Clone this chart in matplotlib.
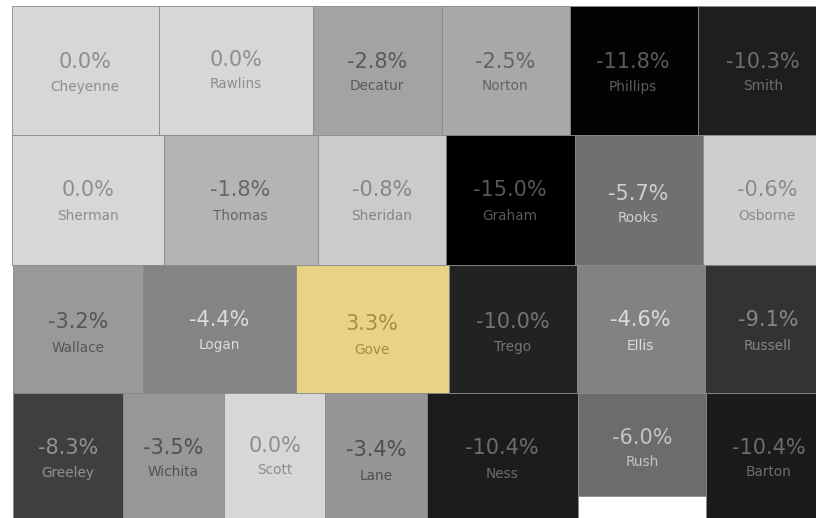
import matplotlib.pyplot as plt
from matplotlib.patches import Rectangle

plt.rcParams['font.family'] = ['DejaVu Sans']

# county tile map, one list per row (in pixels)
names = [
    ['Cheyenne', 'Rawlins', 'Decatur', 'Norton', 'Phillips', 'Smith'],
    ['Sherman', 'Thomas', 'Sheridan', 'Graham', 'Rooks', 'Osborne'],
    ['Wallace', 'Logan', 'Gove', 'Trego', 'Ellis', 'Russell'],
    ['Greeley', 'Wichita', 'Scott', 'Lane', 'Ness', 'Rush', 'Barton'],
]
values = [
    [0.0, 0.0, -2.8, -2.5, -11.8, -10.3],
    [0.0, -1.8, -0.8, -15.0, -5.7, -0.6],
    [-3.2, -4.4, 3.3, -10.0, -4.6, -9.1],
    [-8.3, -3.5, 0.0, -3.4, -10.4, -6.0, -10.4],
]
fills = [
    ['#d7d7d7', '#d7d7d7', '#a3a3a3', '#a8a8a8', '#030303', '#1e1e1e'],
    ['#d7d7d7', '#b4b4b4', '#cbcbcb', '#000000', '#707070', '#cecece'],
    ['#999999', '#848484', '#e9d283', '#222222', '#828282', '#333333'],
    ['#3f3f3f', '#979797', '#d7d7d7', '#969696', '#1c1c1c', '#6c6c6c', '#1b1b1b'],
]
text_colors = [
    ['#8e8e8e', '#8e8e8e', '#5a5a5a', '#646464', '#5c5c5c', '#6e6e6e'],
    ['#8e8e8e', '#666666', '#868686', '#585858', '#cfcfcf', '#8a8a8a'],
    ['#555555', '#dcdcdc', '#a68e40', '#747474', '#dcdcdc', '#868686'],
    ['#929292', '#505050', '#8e8e8e', '#4e4e4e', '#6c6c6c', '#c4c4c4', '#6c6c6c'],
]
x_edges = [
    [12, 159, 313, 442, 570, 698, 816],
    [12, 164, 318, 446, 575, 703, 816],
    [13, 143, 296, 449, 577, 705, 816],
    [13, 123, 224, 325, 427, 578, 706, 816],
]
y_edges = [6, 135, 265, 393, 518]
rush_bottom = 496

label_x = [
    [85, 236, 377, 505, 633, 763],
    [88, 240, 382, 510, 638, 767],
    [78, 219, 372, 513, 640, 768],
    [68, 173, 275, 376, 502, 642, 769],
]
value_y = [
    [59.5, 58.5, 59.5, 59.5, 59.5, 59.5],
    [188.5, 188.5, 188.5, 188.5, 191.5, 188.5],
    [320.5, 318.5, 322.5, 319.5, 318.5, 318.5],
    [445.5, 445.5, 444.5, 448.5, 446.5, 435.5, 445.5],
]
name_y = [
    [85, 83, 85, 85, 85, 85],
    [214, 214, 214, 215, 217, 214],
    [346, 344, 348, 345, 344, 344],
    [471, 471, 469, 474, 472, 461, 471],
]

fig = plt.figure(figsize=(8.16, 5.18), dpi=100)
ax = fig.add_axes([0, 0, 1, 1])
ax.set_xlim(0, 816)
ax.set_ylim(518, 0)
ax.axis('off')

for r, row in enumerate(names):
    for c, name in enumerate(row):
        left, right = x_edges[r][c], x_edges[r][c + 1]
        top, bottom = y_edges[r], y_edges[r + 1]
        if name == 'Rush':
            bottom = rush_bottom
        ax.add_patch(Rectangle((left, top), right - left, bottom - top,
                               facecolor=fills[r][c], edgecolor='#8a8a8a', linewidth=0.6))
        ax.text(label_x[r][c], value_y[r][c], f'{values[r][c]:.1f}%', color=text_colors[r][c],
                fontsize=15, ha='center', va='center_baseline')
        ax.text(label_x[r][c], name_y[r][c], name, color=text_colors[r][c],
                fontsize=9.8, ha='center', va='center_baseline')

fig.savefig('out.png', dpi=100)
